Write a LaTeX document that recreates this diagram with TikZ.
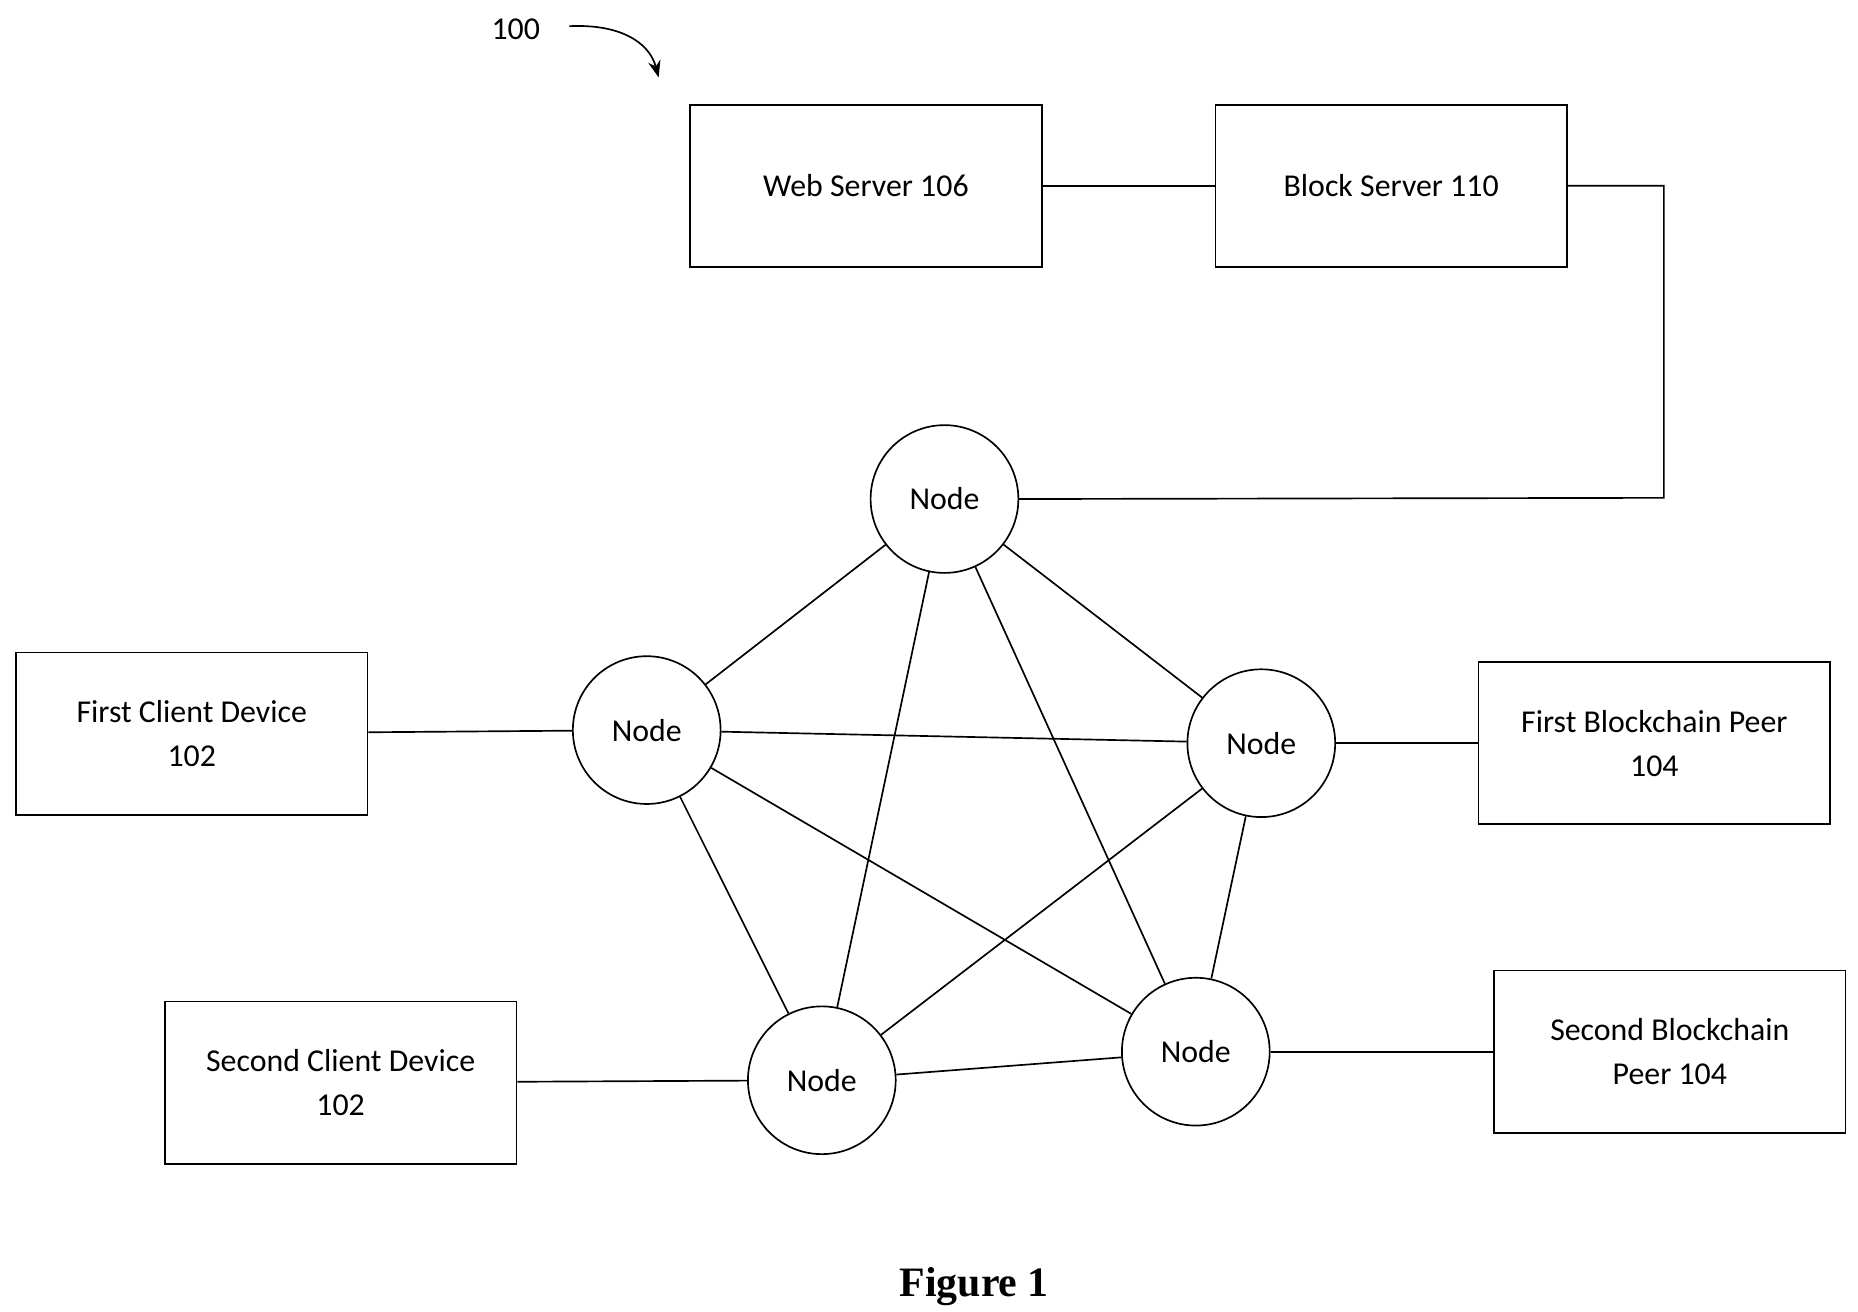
\documentclass[tikz,border=0pt]{standalone}
\usepackage{fontspec}
\setmainfont{Carlito}
\newfontfamily\figfont{Liberation Serif}
\usetikzlibrary{arrows.meta,positioning}
\tikzset{
  box/.style={draw, minimum width=2.95cm, minimum height=1.36cm, align=center,
    font=\fontsize{7.6}{10.5}\selectfont},
  peer/.style={circle, draw, minimum size=1.24cm, inner sep=0pt,
    font=\fontsize{7.6}{9}\selectfont},
  link/.style={line width=0.4pt}
}
\begin{document}
\begin{tikzpicture}[x=0.01cm,y=-0.01cm]
  \useasboundingbox (0,0) rectangle (1560,1101);
  % label and pointer
  \node (lbl) at (433,25) {\fontsize{7.6}{9}\selectfont 100};
  \coordinate (tip) at (553,65);
  \draw[-{Stealth[length=4pt]}] (478,22) .. controls (520,20) and (545,35) .. (tip);
  % servers
  \node[box] (web) at (727,156) {Web Server 106};
  \node[box] (blk) at (1168,156) {Block Server 110};
  % network nodes
  \node[peer] (ntop) at (793,419) {Node};
  \node[peer] (nleft) at (543,613) {Node};
  \node[peer] (nright) at (1059,624) {Node};
  \node[peer] (nbl) at (690,907) {Node};
  \node[peer] (nbr) at (1004,883) {Node};
  % outside devices
  \node[box] (cli1) at (161,616) {First Client Device\\102};
  \node[box] (bcp1) at (1389,624) {First Blockchain Peer\\104};
  \node[box] (cli2) at (286,909) {Second Client Device\\102};
  \node[box] (bcp2) at (1402,883) {Second Blockchain\\Peer 104};
  % connections
  \draw[link] (web) -- (blk);
  \draw[link] (blk.east) -| (1397,418) -- (ntop.east);
  \foreach \a/\b in {ntop/nleft, ntop/nright, ntop/nbl, ntop/nbr,
    nleft/nright, nleft/nbl, nleft/nbr, nright/nbl, nright/nbr, nbl/nbr}
    \draw[link] (\a) -- (\b);
  \draw[link] (cli1) -- (nleft);
  \draw[link] (nright) -- (bcp1);
  \draw[link] (cli2) -- (nbl);
  \draw[link] (nbr) -- (bcp2);
  % caption
  \node (cap) at (818,1080) {\figfont\bfseries\fontsize{10}{12}\selectfont Figure 1};
\end{tikzpicture}
\end{document}
